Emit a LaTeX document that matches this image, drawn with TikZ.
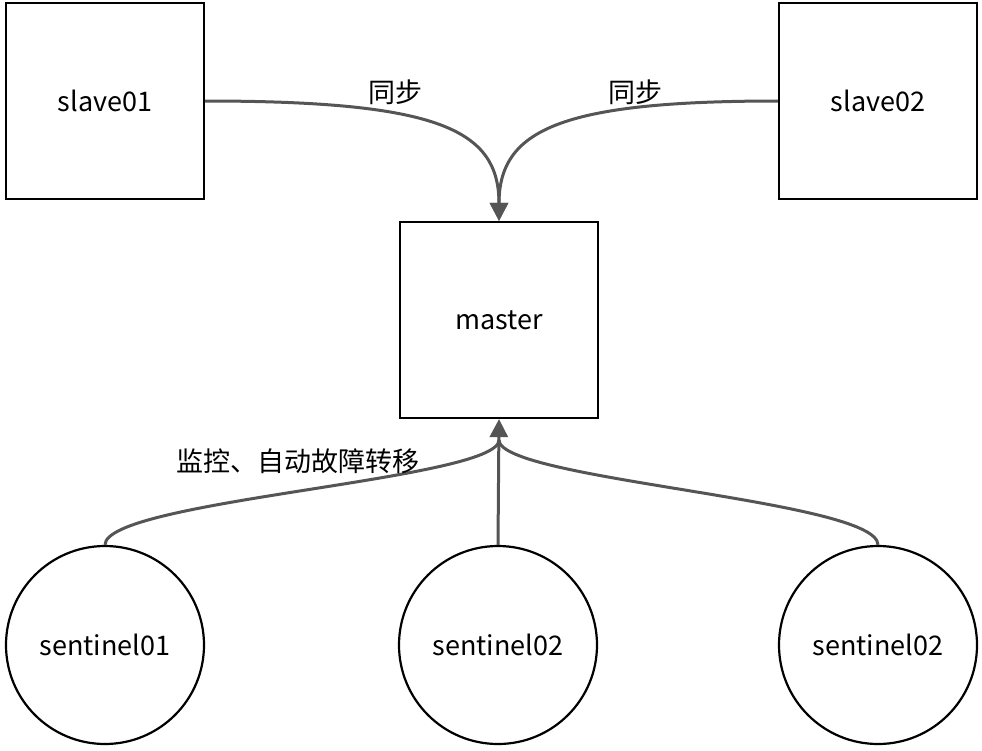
\documentclass[tikz,border=0pt]{standalone}
\usepackage{fontspec}
\setmainfont{Noto Sans CJK SC}
\usetikzlibrary{arrows.meta}
\definecolor{ln}{HTML}{555555}
\begin{document}
\begin{tikzpicture}[x=1pt,y=-1pt,
  box/.style={draw=black,line width=2.2pt,minimum width=198pt,minimum height=196pt,inner sep=0pt,font=\fontsize{27}{32}\selectfont},
  circ/.style={draw=black,line width=2.2pt,circle,minimum size=198pt,inner sep=0pt,font=\fontsize{27}{32}\selectfont},
  con/.style={draw=ln,line width=3pt},
  arr/.style={con,-{Triangle[length=18pt,width=18pt]}},
  lbl/.style={font=\fontsize{27}{32}\selectfont}]
\useasboundingbox (0,0) rectangle (982,750);
\node[box] (s1) at (105,101) {slave01};
\node[box] (s2) at (878,101) {slave02};
\node[box] (m) at (499,320) {master};
\node[circ] (c1) at (105,645) {sentinel01};
\node[circ] (c2) at (498,645) {sentinel02};
\node[circ] (c3) at (878,645) {sentinel02};
\draw[arr] (s1.east) .. controls (440,101) and (499,130) .. (m.north);
\draw[arr] (s2.west) .. controls (560,101) and (499,130) .. (m.north);
\draw[con] (c1.north) .. controls (105,500) and (499,480) .. (499,440);
\draw[con] (c3.north) .. controls (878,500) and (499,480) .. (499,440);
\draw[arr] (c2.north) -- (m.south);
\node[lbl] (l1) at (395,92) {同步};
\node[lbl] (l2) at (635,92) {同步};
\node[lbl] (l3) at (298,461) {监控、自动故障转移};
\end{tikzpicture}
\end{document}
